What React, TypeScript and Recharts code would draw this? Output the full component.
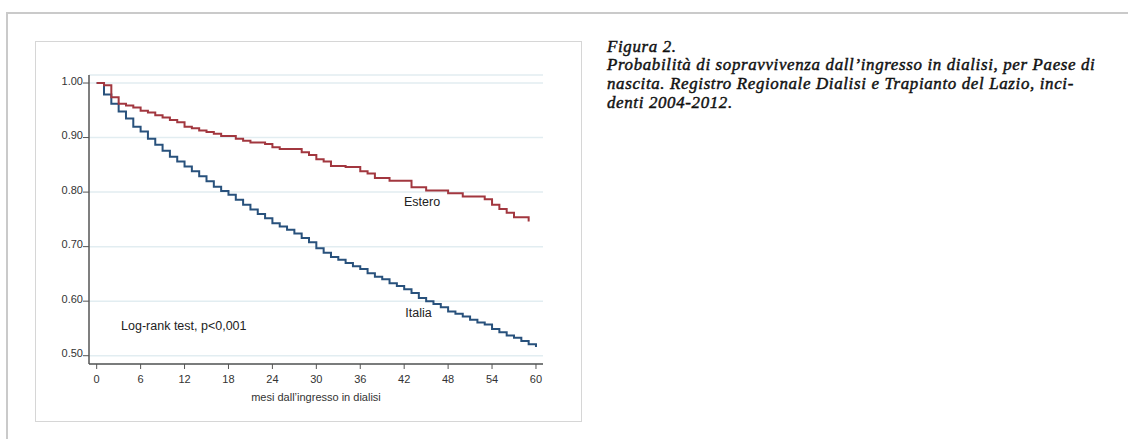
import { LineChart, Line, XAxis, YAxis, CartesianGrid, ReferenceDot } from "recharts";

// mesi dall'ingresso in dialisi
const months = [
  0, 1, 2, 3, 4, 5, 6, 7, 8, 9, 10, 11, 12, 13, 14, 15, 16, 17, 18, 19, 20,
  21, 22, 23, 24, 25, 26, 27, 28, 29, 30, 31, 32, 33, 34, 35, 36, 37, 38, 39,
  40, 41, 42, 43, 44, 45, 46, 47, 48, 49, 50, 51, 52, 53, 54, 55, 56, 57, 58,
  59, 60,
];

// Kaplan-Meier, nati in Italia
const italia = [
  1.0, 0.979, 0.962, 0.948, 0.935, 0.92, 0.911, 0.898, 0.887, 0.876, 0.865,
  0.856, 0.847, 0.838, 0.829, 0.82, 0.81, 0.802, 0.795, 0.786, 0.777, 0.768,
  0.76, 0.752, 0.743, 0.737, 0.731, 0.724, 0.716, 0.708, 0.697, 0.689, 0.681,
  0.676, 0.67, 0.664, 0.659, 0.651, 0.645, 0.64, 0.633, 0.628, 0.622, 0.615,
  0.606, 0.6, 0.595, 0.589, 0.581, 0.577, 0.572, 0.566, 0.561, 0.557, 0.549,
  0.543, 0.537, 0.533, 0.527, 0.521, 0.516,
];

// Kaplan-Meier, nati all'estero (follow-up stops before 60)
const estero = [
  1.0, 0.996, 0.974, 0.962, 0.959, 0.955, 0.949, 0.946, 0.941, 0.937, 0.932,
  0.928, 0.92, 0.917, 0.913, 0.91, 0.907, 0.903, 0.903, 0.898, 0.894, 0.891,
  0.891, 0.888, 0.882, 0.879, 0.879, 0.879, 0.873, 0.868, 0.86, 0.856, 0.848,
  0.848, 0.846, 0.846, 0.838, 0.834, 0.826, 0.826, 0.821, 0.821, 0.821, 0.809,
  0.809, 0.803, 0.803, 0.803, 0.798, 0.798, 0.792, 0.792, 0.792, 0.787, 0.777,
  0.769, 0.762, 0.754, 0.754, 0.746, null,
];

const xTicks = [0, 6, 12, 18, 24, 30, 36, 42, 48, 54, 60];
const yTicks = [0.5, 0.6, 0.7, 0.8, 0.9, 1.0];

const captionLines = [
  "Figura 2.",
  "Probabilità di sopravvivenza dall’ingresso in dialisi, per Paese di",
  "nascita. Registro Regionale Dialisi e Trapianto del Lazio, inci-",
  "denti 2004-2012.",
];

const data = months.map((m, i) => ({
  month: m,
  italia: italia[i],
  estero: estero[i],
}));

const SANS = '"Liberation Sans", Arial, sans-serif';

const YTick = ({ x, y, payload }: any) => (
  <text x={x} y={y} dy={1.5} textAnchor="end" fill="#333" fontSize={11} fontFamily={SANS}>
    {Number(payload.value).toFixed(2)}
  </text>
);

const XTick = ({ x, y, payload }: any) => (
  <text x={x} y={y} dy={12} textAnchor="middle" fill="#333" fontSize={11} fontFamily={SANS}>
    {payload.value}
  </text>
);

export default function App() {
  return (
    <div
      style={{
        position: "absolute",
        left: 0,
        top: 0,
        width: 1128,
        height: 439,
        background: "#fff",
        overflow: "hidden",
      }}
    >
      {/* outer page frame */}
      <div
        style={{
          position: "absolute",
          left: 6,
          top: 12,
          width: 1122,
          height: 427,
          borderLeft: "2px solid #cacaca",
          borderTop: "2px solid #cacaca",
        }}
      />
      {/* figure box */}
      <div
        style={{
          position: "absolute",
          left: 35,
          top: 41,
          width: 547,
          height: 381,
          boxSizing: "border-box",
          border: "1px solid #d6d6d6",
        }}
      />
      <div style={{ position: "absolute", left: 0, top: 0 }}>
        <LineChart
          width={600}
          height={439}
          data={data}
          margin={{ top: 75, right: 57, left: 39, bottom: 45 }}
        >
          <CartesianGrid vertical={false} stroke="#e2edf1" strokeWidth={1.5} />
          <XAxis
            dataKey="month"
            type="number"
            domain={[-1.05, 60.96]}
            ticks={xTicks}
            allowDataOverflow
            height={30}
            stroke="#555"
            axisLine={{ strokeWidth: 1.5 }}
            tickSize={5}
            tickMargin={2}
            tick={<XTick />}
            label={{
              value: "mesi dall’ingresso in dialisi",
              position: "bottom",
              offset: -1,
              fill: "#333",
              fontSize: 11,
              fontFamily: SANS,
            }}
          />
          <YAxis
            type="number"
            domain={[0.4848, 1.0147]}
            ticks={yTicks}
            allowDataOverflow
            width={50}
            stroke="#555"
            axisLine={{ strokeWidth: 1.5 }}
            tickSize={6}
            tickMargin={0}
            tick={<YTick />}
          />
          <Line
            type="stepAfter"
            dataKey="italia"
            stroke="#28517c"
            strokeWidth={2}
            dot={false}
            isAnimationActive={false}
          />
          <Line
            type="stepAfter"
            dataKey="estero"
            stroke="#a2373f"
            strokeWidth={2}
            dot={false}
            isAnimationActive={false}
          />
          <ReferenceDot
            x={44.44}
            y={0.782}
            r={1}
            fill="none"
            stroke="none"
            ifOverflow="visible"
            label={{ value: "Estero", position: "center", fill: "#222", fontSize: 12.5, fontFamily: SANS }}
          />
          <ReferenceDot
            x={43.95}
            y={0.5785}
            r={1}
            fill="none"
            stroke="none"
            ifOverflow="visible"
            label={{ value: "Italia", position: "center", fill: "#222", fontSize: 12.5, fontFamily: SANS }}
          />
          <ReferenceDot
            x={11.9}
            y={0.5547}
            r={1}
            fill="none"
            stroke="none"
            ifOverflow="visible"
            label={{
              value: "Log-rank test, p<0,001",
              position: "center",
              fill: "#222",
              fontSize: 12.5,
              fontFamily: SANS,
            }}
          />
        </LineChart>
      </div>
      <div
        style={{
          position: "absolute",
          left: 607,
          top: 37.5,
          fontFamily: '"Liberation Serif", "Times New Roman", serif',
          fontStyle: "italic",
          fontSize: 16.9,
          lineHeight: "18.8px",
          letterSpacing: 0.65,
          color: "#111",
          WebkitTextStroke: "0.45px #111",
          whiteSpace: "nowrap",
        }}
      >
        {captionLines.map((t, i) => (
          <div key={i}>{t}</div>
        ))}
      </div>
    </div>
  );
}
